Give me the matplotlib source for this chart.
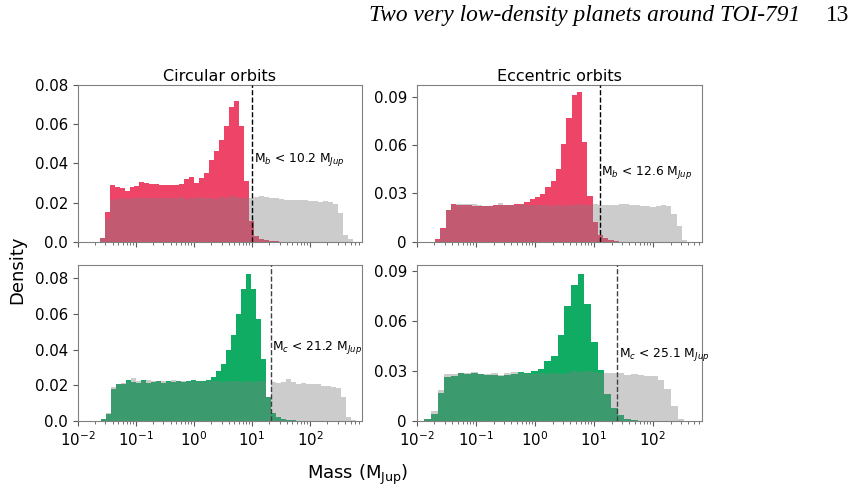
import numpy as np
import matplotlib
matplotlib.use("Agg")
import matplotlib.pyplot as plt

# histogram heights (density per bin)
tl_red = [0.002, 0.015, 0.029, 0.028, 0.0275, 0.026, 0.0278, 0.0285, 0.0303, 0.0298,
          0.0296, 0.0294, 0.029, 0.0292, 0.0288, 0.029, 0.0294, 0.032, 0.033, 0.0298,
          0.0323, 0.0352, 0.0417, 0.0465, 0.052, 0.059, 0.0686, 0.072, 0.059, 0.031,
          0.0107, 0.003, 0.0015, 0.0009, 0.0005, 0.0003,
          0, 0, 0, 0, 0, 0, 0, 0, 0, 0, 0, 0, 0, 0, 0]
tl_gray = [0.0018, 0.0116, 0.0215, 0.022, 0.0222, 0.0219, 0.0224, 0.0221, 0.0223, 0.0224,
           0.0222, 0.0225, 0.0223, 0.0221, 0.0224, 0.0222, 0.0226, 0.0219, 0.0223, 0.0221,
           0.0228, 0.0222, 0.0224, 0.022, 0.0226, 0.0222, 0.0233, 0.0228, 0.0225, 0.0221,
           0.0223, 0.0228, 0.0232, 0.0228, 0.0225, 0.0222, 0.022, 0.0215, 0.0213, 0.0212,
           0.0214, 0.0212, 0.021, 0.021, 0.0205, 0.021, 0.0205, 0.019, 0.0145, 0.0034, 0.0014]

tr_red = [0.0017, 0.0085, 0.0198, 0.0235, 0.023, 0.0228, 0.0225, 0.0222, 0.022, 0.022,
          0.0222, 0.0225, 0.0226, 0.0228, 0.023, 0.0232, 0.0235, 0.0246, 0.0267, 0.0277,
          0.0298, 0.034, 0.0377, 0.0454, 0.0606, 0.077, 0.0912, 0.0929, 0.0616, 0.0282,
          0.0121, 0.004, 0.002, 0.001, 0.0005,
          0, 0, 0, 0, 0, 0, 0, 0, 0, 0, 0, 0, 0]
tr_gray = [0.001, 0.008, 0.0198, 0.0228, 0.0235, 0.0232, 0.0237, 0.0232, 0.0225, 0.022,
           0.022, 0.0222, 0.0238, 0.0226, 0.0228, 0.0225, 0.0232, 0.0228, 0.0226, 0.0229,
           0.0225, 0.0228, 0.0222, 0.0226, 0.0224, 0.0229, 0.0227, 0.0231, 0.0228, 0.023,
           0.0235, 0.023, 0.0225, 0.0228, 0.023, 0.0232, 0.0233, 0.023, 0.0225, 0.022,
           0.0222, 0.0215, 0.022, 0.0225, 0.022, 0.017, 0.01, 0.001]

bl_green = [0.001, 0.004, 0.018, 0.0205, 0.021, 0.0232, 0.0218, 0.0212, 0.023, 0.0215,
            0.0218, 0.0222, 0.0215, 0.0225, 0.022, 0.0223, 0.0218, 0.0225, 0.0228, 0.0226,
            0.0226, 0.0232, 0.0249, 0.028, 0.032, 0.040, 0.0482, 0.060, 0.0738, 0.0827,
            0.0738, 0.0572, 0.0346, 0.0133, 0.0045, 0.002, 0.0012, 0.0006, 0.0003,
            0, 0, 0, 0, 0, 0, 0, 0, 0, 0, 0, 0]
bl_gray = [0.001, 0.0045, 0.019, 0.0207, 0.0215, 0.022, 0.024, 0.0225, 0.0222, 0.0228,
           0.0222, 0.0226, 0.0224, 0.0221, 0.0228, 0.0222, 0.0225, 0.022, 0.0226, 0.0223,
           0.0218, 0.0224, 0.0222, 0.0227, 0.0221, 0.0224, 0.0222, 0.0225, 0.022, 0.0223,
           0.0221, 0.0226, 0.0222, 0.0135, 0.022, 0.0215, 0.022, 0.0235, 0.022, 0.021,
           0.0215, 0.021, 0.0205, 0.021, 0.0195, 0.0195, 0.019, 0.0185, 0.0135, 0.0025, 0.0008]

br_green = [0.0012, 0.0044, 0.0168, 0.0264, 0.027, 0.0288, 0.0284, 0.0288, 0.0284, 0.0278,
            0.0278, 0.0272, 0.0278, 0.028, 0.0292, 0.029, 0.0302, 0.031, 0.0358, 0.0392,
            0.0516, 0.0692, 0.0818, 0.0884, 0.0704, 0.0472, 0.0304, 0.0162, 0.0078, 0.0034,
            0.0014, 0.0006, 0.0002, 0, 0, 0, 0, 0, 0]
br_gray = [0.0012, 0.006, 0.0184, 0.028, 0.0282, 0.029, 0.0288, 0.0292, 0.0285, 0.0282,
           0.0288, 0.0279, 0.029, 0.0292, 0.029, 0.0282, 0.0285, 0.0288, 0.0285, 0.0288,
           0.0283, 0.029, 0.0303, 0.0295, 0.0298, 0.0297, 0.0288, 0.0288, 0.029, 0.0288,
           0.0275, 0.0282, 0.0275, 0.0272, 0.027, 0.0245, 0.0192, 0.0088, 0.0012]

# log10 range of the bins in each panel
tl_range = (-1.621, 2.745)
tr_range = (-1.69, 2.582)
bl_range = (-1.598, 2.798)
br_range = (-1.871, 2.536)

# 99% upper limits
limits = [10.2, 12.6, 21.2, 25.1]
planets = ["b", "b", "c", "c"]

RED = "#EE4468"
GREEN = "#10AC64"

fig = plt.figure(figsize=(8.66, 4.93), dpi=100)

panels = [
    # colour hist, prior hist, bin range, colour, axes rect, ylim top, label y
    (tl_red, tl_gray, tl_range, RED, [0.0897, 0.5097, 0.3284, 0.3179], 0.08, 0.042),
    (tr_red, tr_gray, tr_range, RED, [0.4812, 0.5097, 0.3294, 0.3179], 0.0972, 0.043),
    (bl_green, bl_gray, bl_range, GREEN, [0.0897, 0.146, 0.3284, 0.3164], 0.0875, 0.041),
    (br_green, br_gray, br_range, GREEN, [0.4812, 0.146, 0.3294, 0.3164], 0.0936, 0.040),
]

for i, (vals, gvals, rng, col, rect, ytop, ytext) in enumerate(panels):
    ax = fig.add_axes(rect)
    edges = np.logspace(rng[0], rng[1], len(vals) + 1)
    ax.stairs(vals, edges, fill=True, color=col, zorder=1)
    ax.stairs(gvals, edges, fill=True, color="gray", alpha=0.4, zorder=2)
    ax.axvline(limits[i], color="k" if i < 2 else "0.25", ls="--", lw=1, zorder=3)
    ax.text(limits[i] * 1.05, ytext,
            "M$_{%s}$ < %.1f M$_{Jup}$" % (planets[i], limits[i]),
            fontsize=8.8, va="center", ha="left")
    ax.set_xscale("log")
    ax.set_xlim(0.01, 790 if i % 2 == 0 else 680)
    ax.set_ylim(0, ytop)
    if i % 2 == 0:
        ax.set_yticks([0, 0.02, 0.04, 0.06, 0.08])
        ax.set_yticklabels(["0.0", "0.02", "0.04", "0.06", "0.08"])
    else:
        ax.set_yticks([0, 0.03, 0.06, 0.09])
        ax.set_yticklabels(["0", "0.03", "0.06", "0.09"])
    ax.set_xticks([0.01, 0.1, 1, 10, 100])
    if i < 2:
        ax.tick_params(axis="x", which="both", labelbottom=False)
    ax.tick_params(labelsize=10.8, color="0.35")
    ax.tick_params(which="minor", color="0.35")
    for s in ax.spines.values():
        s.set_color("0.5")
    if i == 0:
        ax.set_title("Circular orbits", fontsize=11.5, pad=3)
    if i == 1:
        ax.set_title("Eccentric orbits", fontsize=11.5, pad=3)

fig.text(0.02, 0.452, "Density", rotation=90, fontsize=13, va="center", ha="center")
fig.text(0.413, 0.0365, "Mass (M$_{\\rm Jup}$)", fontsize=13, va="center", ha="center")

fig.text(800 / 866, 1 - 21 / 493, "Two very low-density planets around TOI-791",
         family="Liberation Serif", style="italic", fontsize=16.8, ha="right", va="baseline")
fig.text(849 / 866, 1 - 21 / 493, "13", family="Liberation Serif", fontsize=16.8,
         ha="right", va="baseline")

fig.savefig("out.png", dpi=100)
